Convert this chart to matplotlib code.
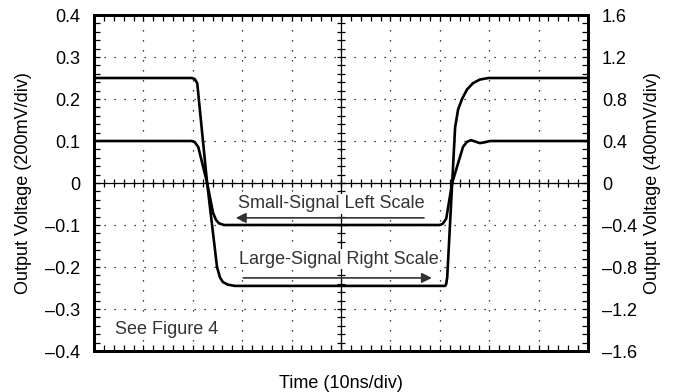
import matplotlib
matplotlib.use("Agg")
import matplotlib.pyplot as plt
from matplotlib.ticker import MultipleLocator, FixedLocator, FixedFormatter
import numpy as np

plt.rcParams['font.family'] = ['Liberation Sans', 'DejaVu Sans']

# time in ns (10ns/div), small signal in V (left scale), large signal in V (right scale)
t_small = [0, 19.8, 20.4, 21.1, 22.9, 24.1, 24.7, 25.3, 26.3, 70.0, 70.6, 71.3,
           72.5, 74.7, 75.5, 76.3, 77.1, 78.1, 79.1, 80.2, 100]
v_small = [0.1, 0.1, 0.097, 0.086, 0.0, -0.071, -0.088, -0.096, -0.1, -0.1, -0.097, -0.085,
           0.0, 0.086, 0.098, 0.102, 0.099, 0.095, 0.097, 0.1, 0.1]

t_large = [0, 19.8, 20.4, 20.9, 22.9, 24.9, 25.5, 26.1, 27.1, 28.5, 71.1, 71.3, 71.5,
           73.1, 73.7, 74.5, 75.5, 76.7, 78.1, 79.8, 100]
v_large = [1.0, 1.0, 0.99, 0.95, 0.0, -0.80, -0.90, -0.944, -0.968, -0.98, -0.98, -0.96, -0.90,
           0.53, 0.70, 0.80, 0.89, 0.95, 0.985, 1.0, 1.0]

left_ticks = [-0.4, -0.3, -0.2, -0.1, 0, 0.1, 0.2, 0.3, 0.4]
left_labels = ["\u20130.4", "\u20130.3", "\u20130.2", "\u20130.1", "0", "0.1", "0.2", "0.3", "0.4"]
right_ticks = [-1.6, -1.2, -0.8, -0.4, 0, 0.4, 0.8, 1.2, 1.6]
right_labels = ["\u20131.6", "\u20131.2", "\u20130.8", "\u20130.4", "0", "0.4", "0.8", "1.2", "1.6"]

fs = 13
fig = plt.figure(figsize=(6.78, 3.92), dpi=100)
ax = fig.add_axes([94/678, 1-351/392, (588-94)/678, (351-15)/392])
ax.set_xlim(0, 100)
ax.set_ylim(-0.4, 0.4)

# scope graticule
ax.xaxis.set_major_locator(MultipleLocator(10))
ax.xaxis.set_minor_locator(MultipleLocator(2))
ax.yaxis.set_major_locator(FixedLocator(left_ticks))
ax.yaxis.set_major_formatter(FixedFormatter(left_labels))
ax.yaxis.set_minor_locator(MultipleLocator(0.02))
ax.grid(True, which="major", color="black", lw=0.9, ls=(0, (1, 7)))
ax.tick_params(which="both", direction="in", length=4.5, width=0.9,
               top=True, bottom=True, left=True, right=False, labelbottom=False,
               labelsize=fs, pad=10, colors="black")
for s in ax.spines.values():
    s.set_linewidth(2)

ax.axhline(0, color="black", lw=0.9)
ax.axvline(50, color="black", lw=0.9)
ax.plot(np.arange(0, 101, 2), np.zeros(51), ls="none", marker="|", ms=6, mew=0.9, color="black")
ax.plot(np.full(41, 50), np.linspace(-0.4, 0.4, 41), ls="none", marker="_", ms=6, mew=0.9, color="black")

ax.plot(t_small, v_small, color="black", lw=1.9, solid_joinstyle="round")
ax.set_ylabel("Output Voltage (200mV/div)", fontsize=fs, labelpad=9)
ax.set_xlabel("Time (10ns/div)", fontsize=fs, labelpad=17)

ax2 = ax.twinx()
ax2.set_ylim(-1.6, 1.6)
ax2.yaxis.set_major_locator(FixedLocator(right_ticks))
ax2.yaxis.set_major_formatter(FixedFormatter(right_labels))
ax2.yaxis.set_minor_locator(MultipleLocator(0.08))
ax2.tick_params(which="both", direction="in", length=4.5, width=0.9, labelsize=fs, pad=10)
for s in ax2.spines.values():
    s.set_linewidth(2)
ax2.plot(t_large, v_large, color="black", lw=1.9, solid_joinstyle="round")
ax2.set_ylabel("Output Voltage (400mV/div)", fontsize=fs, labelpad=5)

box = dict(facecolor="white", edgecolor="none", pad=1)
ax2.text(48.1, -0.2, "Small-Signal Left Scale", fontsize=fs, color="0.2", ha="center", va="center", bbox=box)
ax2.annotate("", xy=(28.7, -0.332), xytext=(66.8, -0.332),
             arrowprops=dict(arrowstyle="-|>", color="0.2", lw=1.2, mutation_scale=15, shrinkA=0, shrinkB=0))
ax2.text(49.5, -0.724, "Large-Signal Right Scale", fontsize=fs, color="0.2", ha="center", va="center", bbox=box)
ax2.annotate("", xy=(68.4, -0.904), xytext=(30.2, -0.904),
             arrowprops=dict(arrowstyle="-|>", color="0.2", lw=1.2, mutation_scale=15, shrinkA=0, shrinkB=0))
ax2.text(4.3, -1.4, "See Figure 4", fontsize=fs, color="0.2", ha="left", va="center", bbox=box)

fig.savefig("out.png", dpi=100)
